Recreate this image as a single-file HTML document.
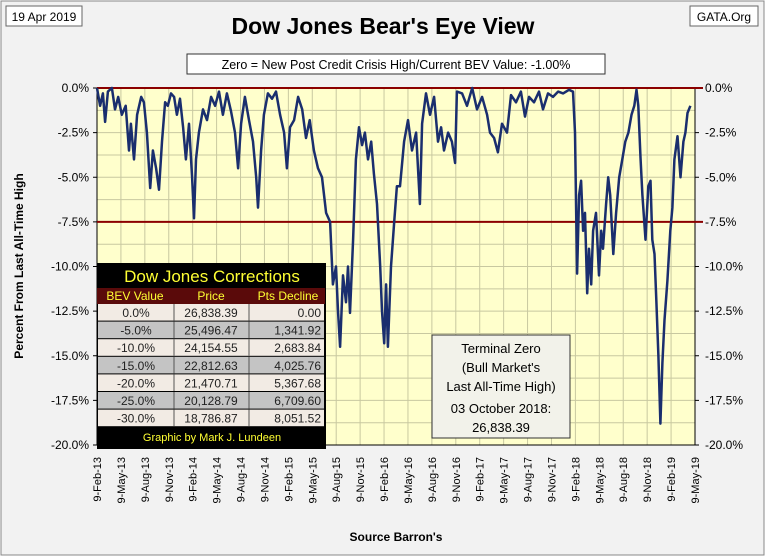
<!DOCTYPE html>
<html><head><meta charset="utf-8">
<style>
body{margin:0;background:#fff;}
svg{display:block;font-family:"Liberation Sans",sans-serif;}
</style></head>
<body>
<svg id="chart" width="765" height="556" viewBox="0 0 765 556">
<rect x="1" y="1" width="763" height="554" fill="#f2f2f2" stroke="#888"/>
<rect x="97" y="88" width="598" height="357" fill="#ffffcc"/>
<g id="grid"></g>
<g id="axes"></g>
<g id="series"></g>
<text x="383" y="34" text-anchor="middle" font-size="23" font-weight="bold">Dow Jones Bear's Eye View</text>
<rect x="6" y="6" width="76" height="20" fill="#fff" stroke="#666"/>
<text x="44" y="21" text-anchor="middle" font-size="12">19 Apr 2019</text>
<rect x="690" y="6" width="68" height="20" fill="#fff" stroke="#666"/>
<text x="724" y="21" text-anchor="middle" font-size="12">GATA.Org</text>
<rect x="187" y="54" width="418" height="20" fill="#fff" stroke="#333"/>
<text x="396" y="69" text-anchor="middle" font-size="12.5">Zero = New Post Credit Crisis High/Current BEV Value:  -1.00%</text>
<text transform="translate(23,266) rotate(-90)" text-anchor="middle" font-size="12" font-weight="bold">Percent From Last All-Time High</text>
<text x="396" y="541" text-anchor="middle" font-size="12" font-weight="bold">Source Barron's</text>

<g font-size="12">
<rect x="97" y="263" width="229" height="186" fill="#000"/>
<text x="212" y="282" text-anchor="middle" font-size="17" fill="#ffff33">Dow Jones Corrections</text>
<rect x="97" y="288" width="228" height="16" fill="#5a0a0a"/>
<text x="135" y="300" text-anchor="middle" fill="#ffff33">BEV Value</text>
<text x="211" y="300" text-anchor="middle" fill="#ffff33">Price</text>
<text x="288" y="300" text-anchor="middle" fill="#ffff33">Pts Decline</text>
<g id="rows"></g>
<text x="212" y="441" text-anchor="middle" font-size="11" fill="#ffff33">Graphic by Mark J. Lundeen</text>
</g>

<g font-size="13" text-anchor="middle">
<rect x="432" y="335" width="138" height="103" fill="#f2f2ea" stroke="#333"/>
<text x="501" y="353">Terminal Zero</text>
<text x="501" y="372">(Bull Market's</text>
<text x="501" y="391">Last All-Time High)</text>
<text x="501" y="413">03 October 2018:</text>
<text x="501" y="432">26,838.39</text>
</g>
</svg>
<script>
const xLabels=["9-Feb-13","9-May-13","9-Aug-13","9-Nov-13","9-Feb-14","9-May-14","9-Aug-14","9-Nov-14","9-Feb-15","9-May-15","9-Aug-15","9-Nov-15","9-Feb-16","9-May-16","9-Aug-16","9-Nov-16","9-Feb-17","9-May-17","9-Aug-17","9-Nov-17","9-Feb-18","9-May-18","9-Aug-18","9-Nov-18","9-Feb-19","9-May-19"];
const yTicks=[0,-2.5,-5,-7.5,-10,-12.5,-15,-17.5,-20];
const refLines=[0,-7.5];
const weeks=[0,1.7,3.2,4.4,5.9,8.1,9.8,11.5,13.5,15.6,17.4,18.4,20.1,21.8,24,25.5,27.1,28.9,30.4,32.1,33.7,35.3,37,38.5,40.2,41.9,43.4,45.1,46.8,48.3,50,51.7,52.7,53.8,55.4,57.6,59.8,62,64.2,66.3,68.4,70.6,72.8,75,76.7,78.3,80.4,82.6,84.8,86.5,87.5,89.2,90.7,92.9,95.1,97.3,99.5,101.7,103.2,104.9,107.1,109.3,111.5,113.6,115.6,117.9,120.1,122.3,124.5,126.7,128.2,129.9,131,132.1,133.7,135.3,136.4,137.5,139.2,140.7,142.4,144.1,145.6,147.3,149,150.5,152.2,153.9,154.9,156.1,157.1,158.1,159.8,161.5,163,164.7,166.9,169,171.2,173.4,175.5,176.7,178.8,181,183.2,185.3,187,188.6,190.8,192.9,194.6,195.6,198.4,201.1,203.9,206.5,209.3,212,213.6,215.8,217.9,220.1,222.8,225,227.7,230.4,232.6,234.8,237.5,240.2,242.4,245.1,247.8,250.6,253.3,256.5,258.7,259.8,260.9,262,263.1,264.2,265.2,266.4,267.4,268.6,269.6,271.2,272.8,274,275,276.7,277.8,278.9,280.6,282.1,283.8,285.5,287.1,288.8,290.5,292,293.2,294.2,295.4,296.4,298.1,299.6,300.8,301.8,303,304,305.1,306.2,307.3,308.4,310,311.6,312.7,313.8,315.5,317.1,318.7,319.8,320.9,322.5];
const bev=[0,-1,-0.3,-1.9,-0.2,0,-1.2,-0.5,-1.5,-1,-3.5,-2,-4,-1.5,-0.5,-0.8,-2.5,-5.6,-3.5,-4.5,-5.7,-3,-0.8,-1,-0.3,-0.5,-1.5,-0.6,-2.2,-4,-2,-5,-7.3,-4,-2.5,-1.2,-1.8,-0.5,-1,-0.2,-1.5,-0.3,-1.3,-2.5,-4.5,-2,-0.5,-1.8,-3,-5,-6.7,-3.5,-1.5,-0.3,-0.6,-0.2,-1.5,-2.5,-4.5,-2.2,-1.8,-0.5,-1.2,-2.8,-1.8,-3.5,-4.5,-5,-7,-7.5,-11,-10,-12.5,-14.5,-10.5,-12,-10,-12.6,-8.5,-4,-2.2,-3.2,-2.5,-4,-3,-4.8,-6.5,-10,-12.5,-14.3,-11,-14.5,-10,-7.5,-5.5,-5.5,-3,-1.8,-3.5,-2.5,-6.5,-2,-0.3,-1.5,-0.5,-3,-2.2,-3.5,-2.5,-3,-4.2,-0.2,-0.3,-1,0,-1.2,-0.5,-1.5,-2.5,-2.8,-3.6,-2,-2.5,-0.4,-0.8,-0.2,-1.6,-0.5,-0.8,-0.2,-1.2,-0.3,-0.5,-0.2,-0.3,-0.1,-0.2,-2.5,-10.4,-6,-5.2,-8,-7,-11.5,-9,-11,-8,-7,-10.5,-8,-9,-6.5,-5,-6,-9.3,-7,-5,-4,-3,-2.5,-1.5,-1,-0.1,-1,-3.9,-6,-8.5,-5.5,-5.2,-8.5,-9.3,-12,-15,-18.8,-15.4,-13,-10.8,-8,-6.7,-4,-2.7,-5,-3,-2.5,-1.4,-1.0];
const tblBev=["0.0%","-5.0%","-10.0%","-15.0%","-20.0%","-25.0%","-30.0%"];
const tblPrice=["26,838.39","25,496.47","24,154.55","22,812.63","21,470.71","20,128.79","18,786.87"];
const tblDecline=["0.00","1,341.92","2,683.84","4,025.76","5,367.68","6,709.60","8,051.52"];

const NS="http://www.w3.org/2000/svg";
const X0=97,X1=695,Y0=88,Y1=445,W_MAX=(xLabels.length-1)*13;
const xs=w=>X0+(X1-X0)*w/W_MAX;
const ys=v=>Y0+(Y1-Y0)*(v/-20);
function mk(tag,attrs,parent){const e=document.createElementNS(NS,tag);for(const k in attrs)e.setAttribute(k,attrs[k]);parent.appendChild(e);return e;}
const grid=document.getElementById('grid'),axes=document.getElementById('axes'),series=document.getElementById('series');
xLabels.forEach((l,i)=>{
  const x=xs(i*13);
  const g=mk('line',{x1:x,x2:x,y1:Y0,y2:Y1,stroke:'#c8c8a0','stroke-width':1},grid);
  
  
  const t=mk('text',{transform:`translate(${x+4},457) rotate(-90)`,'text-anchor':'end','font-size':11},axes);
  t.textContent=l;
  
  
});
for(let v=0;v>=-20;v-=1.25){
  const y=ys(v);
  const g=mk('line',{x1:X0,x2:X1,y1:y,y2:y,stroke:'#c8c8a0','stroke-width':1},grid);
  
  
}
yTicks.forEach(v=>{
  const y=ys(v);
  const lab=v.toFixed(1)+'%';
  const a=mk('text',{x:X0-8,y:y+4,'text-anchor':'end','font-size':12},axes);
  a.textContent=lab;
  
  
  const b=mk('text',{x:X1+10,y:y+4,'text-anchor':'start','font-size':12},axes);
  b.textContent=lab;
  
  
  mk('line',{x1:X0-4,x2:X0,y1:y,y2:y,stroke:'#000'},axes);
  mk('line',{x1:X1,x2:X1+4,y1:y,y2:y,stroke:'#000'},axes);
});
mk('line',{x1:X0,x2:X0,y1:Y0,y2:Y1,stroke:'#000'},axes);
mk('line',{x1:X1,x2:X1,y1:Y0,y2:Y1,stroke:'#000'},axes);
mk('line',{x1:X0,x2:X1,y1:Y1,y2:Y1,stroke:'#000'},axes);
refLines.forEach(v=>{
  const r=mk('line',{x1:X0,x2:X1+8,y1:ys(v),y2:ys(v),stroke:'#8b0000','stroke-width':2},series);
  
  
});
const pts=weeks.map((w,i)=>xs(w).toFixed(1)+','+ys(bev[i]).toFixed(1)).join(' ');
const pl=mk('polyline',{points:pts,fill:'none',stroke:'#1a2e6e','stroke-width':2.5,'stroke-linejoin':'round'},series);



const rows=document.getElementById('rows');
tblBev.forEach((b,i)=>{
  const y=304+i*17.6;
  const fill=i%2?'#c4c4c4':'#f2ebe4';
  const r=mk('rect',{x:98,y:y,width:226,height:16.6,fill:fill},rows);
  
  
  mk('line',{x1:174,x2:174,y1:y,y2:y+16.6,stroke:'#555'},rows);
  mk('line',{x1:249,x2:249,y1:y,y2:y+16.6,stroke:'#555'},rows);
  const t1=mk('text',{x:136,y:y+13,'text-anchor':'middle','font-size':12,fill:'#222'},rows);t1.textContent=b;
  
  
  const t2=mk('text',{x:211,y:y+13,'text-anchor':'middle','font-size':12,fill:'#222'},rows);t2.textContent=tblPrice[i];
  
  
  const t3=mk('text',{x:321,y:y+13,'text-anchor':'end','font-size':12,fill:'#222'},rows);t3.textContent=tblDecline[i];
  
  
});
</script>
</body></html>
